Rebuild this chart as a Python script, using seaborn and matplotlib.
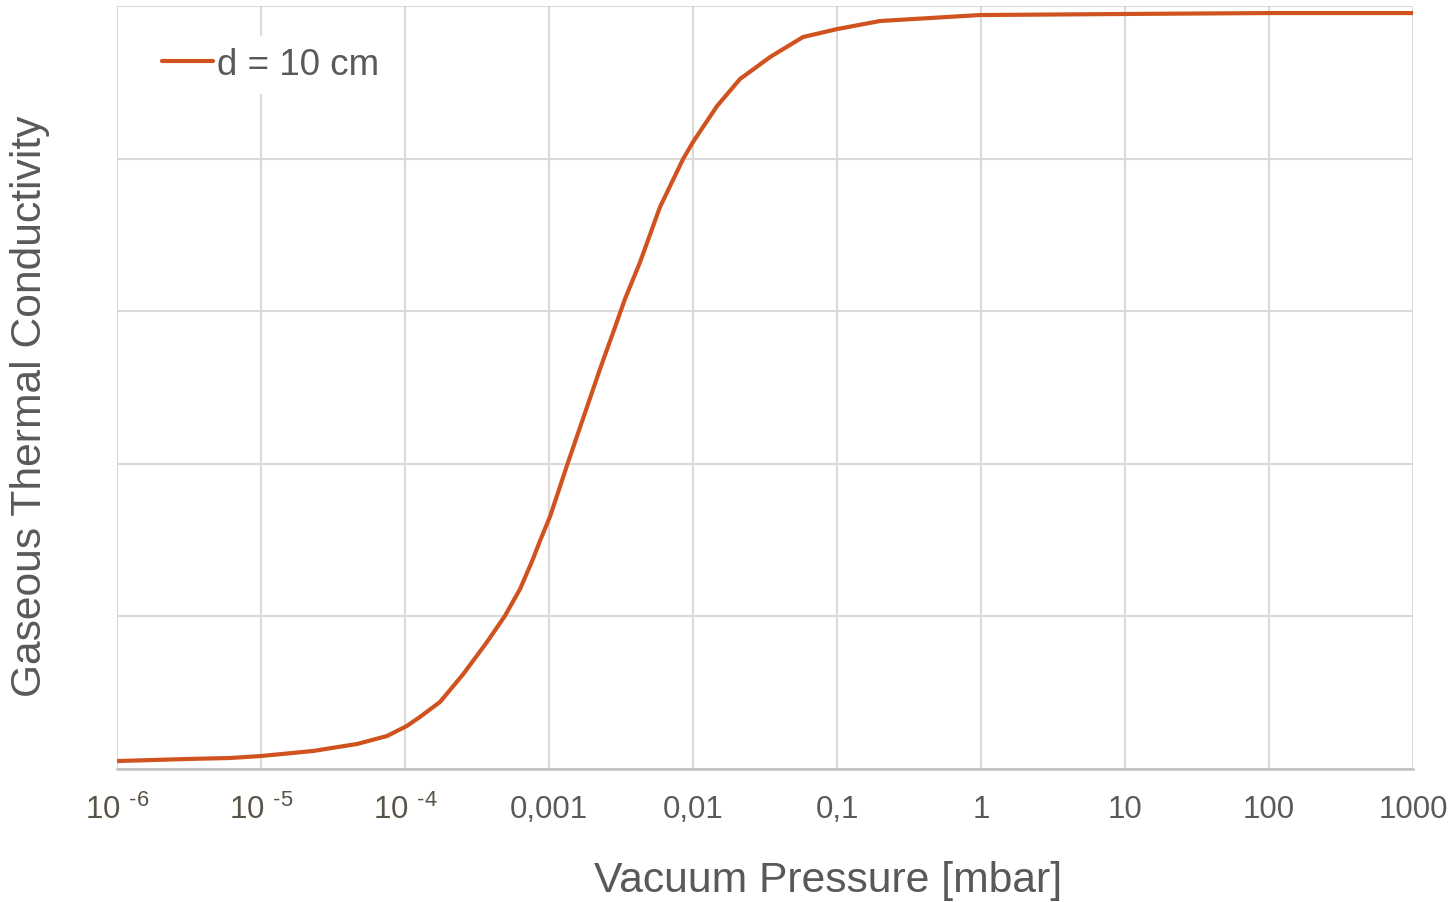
import matplotlib
matplotlib.use("Agg")
import matplotlib.pyplot as plt
import matplotlib.ticker as mticker
import seaborn as sns
import pandas as pd

# values (pressure in mbar, conductivity in grid units 0..5)
pressure = [1e-6, 3.21e-6, 6.10e-6, 1e-5, 2.30e-5, 4.65e-5, 7.50e-5, 1.03e-4,
            1.27e-4, 1.75e-4, 2.53e-4, 3.71e-4, 4.94e-4, 6.30e-4, 7.74e-4,
            8.65e-4, 1.02e-3, 1.33e-3, 1.72e-3, 2.26e-3, 2.78e-3, 3.37e-3,
            4.29e-3, 5.90e-3, 8.53e-3, 1e-2, 1.47e-2, 2.12e-2, 2.82e-2,
            3.43e-2, 5.81e-2, 0.1, 0.199, 0.98, 10, 100, 1000]
conductivity = [0.052, 0.066, 0.072, 0.085, 0.118, 0.164, 0.216, 0.282,
                0.341, 0.439, 0.620, 0.832, 1.003, 1.180, 1.376,
                1.494, 1.658, 1.986, 2.294, 2.621, 2.857, 3.080,
                3.322, 3.683, 3.997, 4.109, 4.345, 4.522, 4.607,
                4.666, 4.797, 4.849, 4.902, 4.941, 4.948, 4.954, 4.954]
series_name = "d = 10 cm"

tick_pos = [1e-6, 1e-5, 1e-4, 1e-3, 1e-2, 1e-1, 1, 10, 100, 1000]
tick_labels = [r"10 $^{\text{-6}}$", r"10 $^{\text{-5}}$", r"10 $^{\text{-4}}$",
               "0,001", "0,01", "0,1", "1", "10", "100", "1000"]

df = pd.DataFrame({"p": pressure, "k": conductivity, "series": series_name})

sns.set_style("whitegrid")
plt.rcParams["font.family"] = ["Liberation Sans", "DejaVu Sans"]
plt.rcParams["mathtext.fontset"] = "custom"
plt.rcParams["mathtext.rm"] = "Liberation Sans"
plt.rcParams["mathtext.it"] = "Liberation Sans"
plt.rcParams["mathtext.bf"] = "Liberation Sans"

fig = plt.figure(figsize=(14.53, 9.03), dpi=100)
ax = fig.add_axes([0.0805, 0.1473, 0.892, 0.8449])

sns.lineplot(data=df, x="p", y="k", hue="series", palette=["#d0531f"],
             linewidth=3.0, ax=ax)

ax.set_xscale("log")
ax.set_xlim(1e-6, 1000)
ax.set_ylim(0, 5)
ax.xaxis.set_major_locator(mticker.FixedLocator(tick_pos))
ax.xaxis.set_minor_locator(mticker.NullLocator())
ax.set_xticks(tick_pos)
ax.set_xticklabels(tick_labels)
ax.set_yticks([0, 1, 2, 3, 4, 5])
ax.set_yticklabels([])

ax.grid(True, color="#d9d9d9", linewidth=1.5)
ax.tick_params(axis="both", length=0)
ax.tick_params(axis="x", labelsize=22.5, labelcolor="#595959", pad=18)
for lbl in ax.get_xticklabels()[:3]:
    lbl.set_color("#5b5346")

for side in ["left", "right", "top"]:
    ax.spines[side].set_visible(False)
ax.spines["bottom"].set_color("#bfbfbf")
ax.spines["bottom"].set_linewidth(1.8)

ax.set_xlabel("Vacuum Pressure [mbar]", fontsize=30.7, color="#595959")
ax.xaxis.set_label_coords(0.549, -0.119)
ax.set_ylabel("Gaseous Thermal Conductivity", fontsize=30.7, color="#595959")
ax.yaxis.set_label_coords(-0.052, 0.477)

leg = ax.legend(loc="upper left", bbox_to_anchor=(0.012, 0.985), fontsize=26.5,
                frameon=True, facecolor="white", edgecolor="white", framealpha=1,
                handlelength=1.4, handletextpad=0.1, borderpad=0.3)
for t in leg.get_texts():
    t.set_color("#595959")

fig.savefig("out.png", dpi=100)
